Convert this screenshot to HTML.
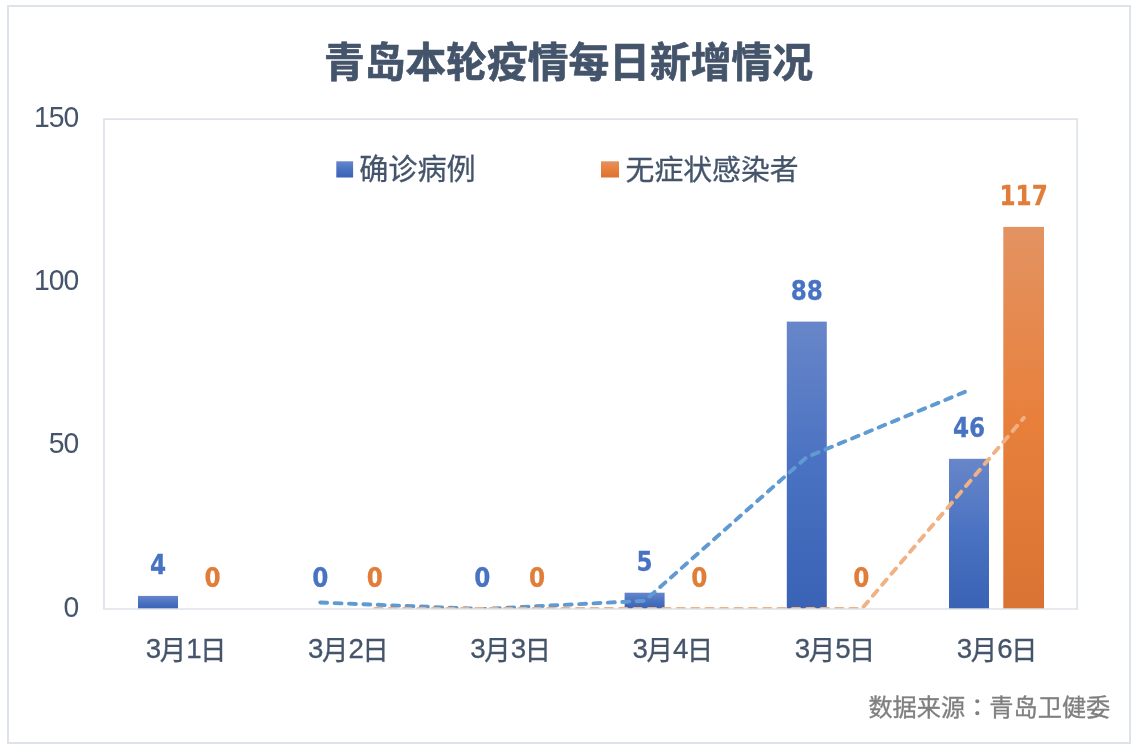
<!DOCTYPE html>
<html lang="zh-CN"><head><meta charset="utf-8"><title>青岛本轮疫情每日新增情况</title>
<style>html,body{margin:0;padding:0;background:#fff;}body{width:1136px;height:750px;overflow:hidden;}svg{display:block;}text{font-family:"Liberation Sans", "Noto Sans CJK SC", sans-serif;}tspan.jp{font-family:"Noto Sans CJK JP","Noto Sans CJK TC",sans-serif;}text.dl{font-family:"DejaVu Sans","Liberation Sans",sans-serif;}</style>
</head><body>
<svg width="1136" height="750" viewBox="0 0 1136 750">
<defs>
<linearGradient id="gb" x1="0" y1="0" x2="0" y2="1"><stop offset="0" stop-color="#6886c9"/><stop offset="0.5" stop-color="#4a72c2"/><stop offset="1" stop-color="#3a62b5"/></linearGradient>
<linearGradient id="go" x1="0" y1="0" x2="0" y2="1"><stop offset="0" stop-color="#e39362"/><stop offset="0.5" stop-color="#e8803c"/><stop offset="1" stop-color="#d97333"/></linearGradient>
<clipPath id="plot"><rect x="104.0" y="119.1" width="973.2" height="489.9"/></clipPath>
</defs>
<rect x="0" y="0" width="1136" height="750" fill="#ffffff"/>
<rect x="8" y="6" width="1122" height="737" fill="none" stroke="#dee2e9" stroke-width="2"/>
<text x="568.5" y="77" text-anchor="middle" font-size="40.75" font-weight="700" fill="#44546a" stroke="#44546a" stroke-width="0.7" stroke-linejoin="round">青岛本轮疫情每日新增情况</text>
<path d="M104.0 609.0 V119.1 H1077.2 V609.0" fill="none" stroke="#dee2e9" stroke-width="1.7"/>
<rect x="336.3" y="161.3" width="16.8" height="16.2" fill="url(#gb)"/>
<text x="359.2" y="179.7" font-size="29.1" fill="#44546a" stroke="#44546a" stroke-width="0.3">确诊病例</text>
<rect x="601" y="161.3" width="18" height="16.2" fill="url(#go)"/>
<text x="625.6" y="179.7" font-size="28.85" fill="#44546a" stroke="#44546a" stroke-width="0.3">无症状感染者</text>
<text transform="translate(78.4 127.3) scale(0.95 1)" x="0" y="0" text-anchor="end" font-size="29.8" letter-spacing="-1.0" fill="#44546a">150</text>
<text transform="translate(78.4 290.2) scale(0.95 1)" x="0" y="0" text-anchor="end" font-size="29.8" letter-spacing="-1.0" fill="#44546a">100</text>
<text transform="translate(78.4 453.1) scale(0.95 1)" x="0" y="0" text-anchor="end" font-size="29.8" letter-spacing="-1.0" fill="#44546a">50</text>
<text transform="translate(78.4 617.1) scale(0.95 1)" x="0" y="0" text-anchor="end" font-size="29.8" letter-spacing="-1.0" fill="#44546a">0</text>
<rect x="138.0" y="595.9" width="40.0" height="13.1" fill="url(#gb)"/>
<rect x="624.6" y="592.7" width="40.0" height="16.3" fill="url(#gb)"/>
<rect x="786.8" y="321.6" width="40.0" height="287.4" fill="url(#gb)"/>
<rect x="949.0" y="458.8" width="40.0" height="150.2" fill="url(#gb)"/>
<rect x="1003.3" y="226.9" width="40.7" height="382.1" fill="url(#go)"/>
<g clip-path="url(#plot)" fill="none" stroke-width="3.9" stroke-linecap="round" stroke-linejoin="round" stroke-dasharray="6.9 7.5">
<path d="M320.2 602.5 L482.4 609.0 L644.6 600.8 L806.8 457.1 L969.0 390.2" stroke="#5f9ad3"/>
<path d="M375.0 609.0 L537.2 609.0 L699.4 609.0 L861.6 609.0 L1023.8 417.9" stroke="#f0b185"/>
</g>
<path d="M103.2 609.0 H1078.0" fill="none" stroke="#dee2e9" stroke-width="1.7"/>
<text x="158.0" y="574.1" text-anchor="middle" class="dl" font-size="27.3" font-weight="700" stroke="#4872c2" stroke-width="0.3" textLength="16.1" lengthAdjust="spacingAndGlyphs" fill="#4872c2">4</text>
<text x="212.6" y="587.1" text-anchor="middle" class="dl" font-size="27.3" font-weight="700" stroke="#e07d38" stroke-width="0.3" textLength="16.1" lengthAdjust="spacingAndGlyphs" fill="#e07d38">0</text>
<text x="320.2" y="587.1" text-anchor="middle" class="dl" font-size="27.3" font-weight="700" stroke="#4872c2" stroke-width="0.3" textLength="16.1" lengthAdjust="spacingAndGlyphs" fill="#4872c2">0</text>
<text x="374.8" y="587.1" text-anchor="middle" class="dl" font-size="27.3" font-weight="700" stroke="#e07d38" stroke-width="0.3" textLength="16.1" lengthAdjust="spacingAndGlyphs" fill="#e07d38">0</text>
<text x="482.4" y="587.1" text-anchor="middle" class="dl" font-size="27.3" font-weight="700" stroke="#4872c2" stroke-width="0.3" textLength="16.1" lengthAdjust="spacingAndGlyphs" fill="#4872c2">0</text>
<text x="537.0" y="587.1" text-anchor="middle" class="dl" font-size="27.3" font-weight="700" stroke="#e07d38" stroke-width="0.3" textLength="16.1" lengthAdjust="spacingAndGlyphs" fill="#e07d38">0</text>
<text x="644.6" y="570.9" text-anchor="middle" class="dl" font-size="27.3" font-weight="700" stroke="#4872c2" stroke-width="0.3" textLength="16.1" lengthAdjust="spacingAndGlyphs" fill="#4872c2">5</text>
<text x="699.2" y="587.1" text-anchor="middle" class="dl" font-size="27.3" font-weight="700" stroke="#e07d38" stroke-width="0.3" textLength="16.1" lengthAdjust="spacingAndGlyphs" fill="#e07d38">0</text>
<text x="806.8" y="299.8" text-anchor="middle" class="dl" font-size="27.3" font-weight="700" stroke="#4872c2" stroke-width="0.3" textLength="32.2" lengthAdjust="spacingAndGlyphs" fill="#4872c2">88</text>
<text x="861.4" y="587.1" text-anchor="middle" class="dl" font-size="27.3" font-weight="700" stroke="#e07d38" stroke-width="0.3" textLength="16.1" lengthAdjust="spacingAndGlyphs" fill="#e07d38">0</text>
<text x="969.0" y="437.0" text-anchor="middle" class="dl" font-size="27.3" font-weight="700" stroke="#4872c2" stroke-width="0.3" textLength="32.2" lengthAdjust="spacingAndGlyphs" fill="#4872c2">46</text>
<text x="1023.6" y="205.1" text-anchor="middle" class="dl" font-size="27.3" font-weight="700" stroke="#e07d38" stroke-width="0.3" textLength="48.3" lengthAdjust="spacingAndGlyphs" fill="#e07d38">117</text>
<text transform="translate(186.2 659.9) scale(1 1.02)" x="0" y="0" text-anchor="middle" font-size="26.5" fill="#44546a" stroke="#44546a" stroke-width="0.3"><tspan font-size="27.7" letter-spacing="-1.4" dy="-1.5">3</tspan><tspan dy="1.5">月</tspan><tspan font-size="27.7" letter-spacing="-1.7" dy="-1.5">1</tspan><tspan dy="1.5">日</tspan></text>
<text transform="translate(348.4 659.9) scale(1 1.02)" x="0" y="0" text-anchor="middle" font-size="26.5" fill="#44546a" stroke="#44546a" stroke-width="0.3"><tspan font-size="27.7" letter-spacing="-1.4" dy="-1.5">3</tspan><tspan dy="1.5">月</tspan><tspan font-size="27.7" letter-spacing="-1.7" dy="-1.5">2</tspan><tspan dy="1.5">日</tspan></text>
<text transform="translate(510.6 659.9) scale(1 1.02)" x="0" y="0" text-anchor="middle" font-size="26.5" fill="#44546a" stroke="#44546a" stroke-width="0.3"><tspan font-size="27.7" letter-spacing="-1.4" dy="-1.5">3</tspan><tspan dy="1.5">月</tspan><tspan font-size="27.7" letter-spacing="-1.7" dy="-1.5">3</tspan><tspan dy="1.5">日</tspan></text>
<text transform="translate(672.8 659.9) scale(1 1.02)" x="0" y="0" text-anchor="middle" font-size="26.5" fill="#44546a" stroke="#44546a" stroke-width="0.3"><tspan font-size="27.7" letter-spacing="-1.4" dy="-1.5">3</tspan><tspan dy="1.5">月</tspan><tspan font-size="27.7" letter-spacing="-1.7" dy="-1.5">4</tspan><tspan dy="1.5">日</tspan></text>
<text transform="translate(835.0 659.9) scale(1 1.02)" x="0" y="0" text-anchor="middle" font-size="26.5" fill="#44546a" stroke="#44546a" stroke-width="0.3"><tspan font-size="27.7" letter-spacing="-1.4" dy="-1.5">3</tspan><tspan dy="1.5">月</tspan><tspan font-size="27.7" letter-spacing="-1.7" dy="-1.5">5</tspan><tspan dy="1.5">日</tspan></text>
<text transform="translate(997.2 659.9) scale(1 1.02)" x="0" y="0" text-anchor="middle" font-size="26.5" fill="#44546a" stroke="#44546a" stroke-width="0.3"><tspan font-size="27.7" letter-spacing="-1.4" dy="-1.5">3</tspan><tspan dy="1.5">月</tspan><tspan font-size="27.7" letter-spacing="-1.7" dy="-1.5">6</tspan><tspan dy="1.5">日</tspan></text>
<text x="1110.3" y="716.4" text-anchor="end" font-size="24.2" fill="#7f7f7f" stroke="#7f7f7f" stroke-width="0.35">数据来源<tspan class="jp" lang="ja">：</tspan>青岛卫健委</text>
</svg>
</body></html>
